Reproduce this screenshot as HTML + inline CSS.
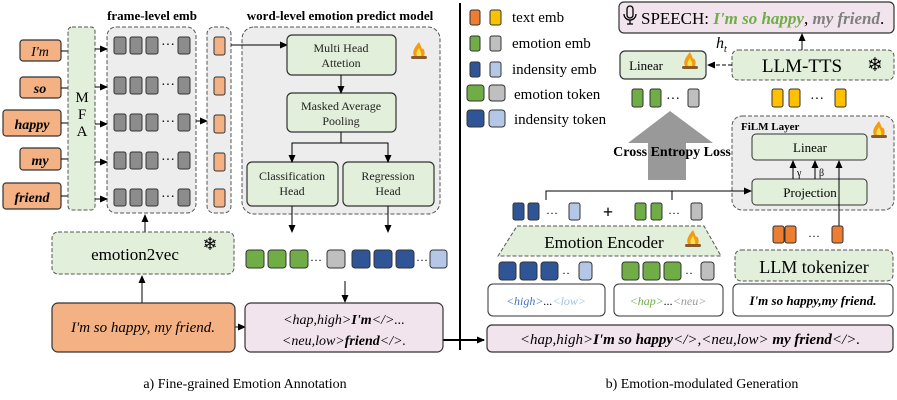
<!DOCTYPE html>
<html><head><meta charset="utf-8"><style>
body{margin:0;background:#fff}
svg{display:block;font-family:"Liberation Serif",serif}
</style></head><body>
<svg width="897" height="400" viewBox="0 0 897 400" xmlns="http://www.w3.org/2000/svg">
<defs>
<marker id="a" markerWidth="8" markerHeight="8" refX="7" refY="4" orient="auto" markerUnits="userSpaceOnUse"><path d="M0,0.5 L8,4 L0,7.5 z" fill="#000"/></marker>
<g id="fire"><path d="M9,0 C4,6 2,10 4,14 L14,14 C16,10 13,5 12,7 C11,4 10,2 9,0z" fill="#f39c12"/><path d="M9,6 C6,10 6,12 7,14 L11,14 C12,11 10,9 9,6z" fill="#fde047"/><rect x="1" y="14" width="16" height="3" rx="1.5" fill="#8b5a2b"/></g>
</defs>
<!-- LEFT -->
<text x="152" y="20" font-size="13" font-weight="bold" text-anchor="middle">frame-level emb</text>
<text x="340" y="20" font-size="13" font-weight="bold" text-anchor="middle">word-level emotion predict model</text>
<g stroke="#333" stroke-width="1.2" fill="#f4b183" font-style="italic" font-weight="bold" font-size="14">
<rect x="20" y="40" width="41" height="21" rx="3"/><rect x="20" y="77" width="41" height="21" rx="3"/><rect x="3" y="110" width="58" height="26" rx="3"/><rect x="20" y="148" width="41" height="22" rx="3"/><rect x="3" y="183" width="58" height="26" rx="3"/>
</g>
<g font-style="italic" font-weight="bold" font-size="14" text-anchor="middle"><text x="40" y="56" font-weight="normal">I'm</text><text x="40" y="93">so</text><text x="32" y="129">happy</text><text x="40" y="165">my</text><text x="32" y="202">friend</text></g>
<g stroke="#000" stroke-width="1"><line x1="61" y1="51" x2="68" y2="51"/><line x1="61" y1="88" x2="68" y2="88"/><line x1="61" y1="123" x2="68" y2="123"/><line x1="61" y1="159" x2="68" y2="159"/><line x1="61" y1="196" x2="68" y2="196"/></g>
<rect x="68" y="27" width="27" height="183" rx="4" fill="#e2efda" stroke="#555" stroke-dasharray="4,2"/>
<text x="82" y="102" font-size="15" text-anchor="middle">M</text><text x="82" y="119" font-size="15" text-anchor="middle">F</text><text x="82" y="136" font-size="15" text-anchor="middle">A</text>
<rect x="107" y="27" width="89" height="186" rx="9" fill="#ededed" stroke="#555" stroke-dasharray="4,2"/>
<g stroke="#000" fill="none" marker-end="url(#a)"><line x1="95" y1="49" x2="107" y2="49"/><line x1="95" y1="87" x2="107" y2="87"/><line x1="95" y1="124" x2="107" y2="124"/><line x1="95" y1="162" x2="107" y2="162"/><line x1="95" y1="199" x2="107" y2="199"/><line x1="196" y1="121" x2="207" y2="121"/></g>
<g fill="#8c8c8c" stroke="#333">
<g id="r"><rect x="114" y="37" width="12" height="17" rx="2"/><rect x="130" y="37" width="12" height="17" rx="2"/><rect x="146" y="37" width="12" height="17" rx="2"/><rect x="178" y="37" width="12" height="17" rx="2"/></g>
<use href="#r" y="40"/><use href="#r" y="77"/><use href="#r" y="115"/><use href="#r" y="152"/>
</g>
<g font-size="14" text-anchor="middle"><text x="168" y="49">···</text><text x="168" y="89">···</text><text x="168" y="126">···</text><text x="168" y="164">···</text><text x="168" y="201">···</text></g>
<rect x="207" y="27" width="24" height="186" rx="7" fill="#ededed" stroke="#555" stroke-dasharray="4,2"/>
<g fill="#f4b183" stroke="#333"><rect x="214" y="37" width="11" height="18" rx="2"/><rect x="214" y="77" width="11" height="18" rx="2"/><rect x="214" y="115" width="11" height="18" rx="2"/><rect x="214" y="153" width="11" height="18" rx="2"/><rect x="214" y="189" width="11" height="18" rx="2"/></g>
<rect x="242" y="27" width="198" height="187" rx="12" fill="#ededed" stroke="#555" stroke-dasharray="4,2"/>
<use href="#fire" x="410" y="42"/>
<path d="M231,45 H287" stroke="#000" marker-end="url(#a)"/>
<g fill="#e2efda" stroke="#333" stroke-width="1.2"><rect x="287" y="35" width="109" height="40" rx="5"/><rect x="287" y="93" width="109" height="39" rx="5"/><rect x="247" y="162" width="91" height="44" rx="5"/><rect x="343" y="162" width="91" height="44" rx="5"/></g>
<g font-size="12" text-anchor="middle" fill="#222"><text x="341" y="52">Multi Head</text><text x="341" y="67">Attetion</text><text x="341" y="110">Masked Average</text><text x="341" y="125">Pooling</text><text x="292" y="180">Classification</text><text x="292" y="195">Head</text><text x="388" y="180">Regression</text><text x="388" y="195">Head</text></g>
<g stroke="#000" fill="none"><path d="M341,75 V93" marker-end="url(#a)"/><path d="M341,132 V143 H292 V162" marker-end="url(#a)"/><path d="M341,143 H388 V162" marker-end="url(#a)"/><path d="M292,206 V232" marker-end="url(#a)"/><path d="M388,206 V232" marker-end="url(#a)"/><path d="M145,232 V215" marker-end="url(#a)"/><path d="M142,303 V276" marker-end="url(#a)"/><path d="M345,281 V302" marker-end="url(#a)"/><path d="M235,327 H245" marker-end="url(#a)"/><path d="M443,340 H484" stroke-width="2" marker-end="url(#a)"/></g>
<rect x="52" y="232" width="182" height="42" rx="6" fill="#e2efda" stroke="#555" stroke-dasharray="4,2"/>
<text x="135" y="260" font-size="17" text-anchor="middle">emotion2vec</text>
<text x="210" y="250" font-size="18" text-anchor="middle">❄</text>
<g stroke="#333"><rect x="246" y="250" width="18" height="18" rx="3" fill="#70ad47"/><rect x="268" y="250" width="18" height="18" rx="3" fill="#70ad47"/><rect x="290" y="250" width="18" height="18" rx="3" fill="#70ad47"/><rect x="327" y="250" width="18" height="18" rx="3" fill="#bfbfbf"/><rect x="352" y="250" width="18" height="18" rx="3" fill="#2f5597"/><rect x="374" y="250" width="18" height="18" rx="3" fill="#2f5597"/><rect x="396" y="250" width="18" height="18" rx="3" fill="#2f5597"/><rect x="430" y="250" width="17" height="18" rx="3" fill="#b4c7e7"/></g>
<text x="310" y="264" font-size="12">···</text><text x="416" y="264" font-size="12">···</text>
<rect x="52" y="303" width="183" height="49" rx="6" fill="#f4b183" stroke="#333" stroke-width="1.2"/>
<text x="143" y="332" font-size="15" font-style="italic" text-anchor="middle">I'm so happy, my friend.</text>
<rect x="245" y="303" width="198" height="49" rx="6" fill="#f2e4ec" stroke="#333" stroke-width="1.2"/>
<text x="344" y="324" font-size="14" text-anchor="middle" font-style="italic">&lt;hap,high&gt;<tspan font-weight="bold">I'm</tspan>&lt;/&gt;...</text>
<text x="344" y="345" font-size="14" text-anchor="middle" font-style="italic">&lt;neu,low&gt;<tspan font-weight="bold">friend</tspan>&lt;/&gt;.</text>
<text x="245" y="388" font-size="14" text-anchor="middle">a) Fine-grained Emotion Annotation</text>
<line x1="460" y1="3" x2="460" y2="350" stroke="#000" stroke-width="2"/>
<!-- RIGHT -->
<g stroke="#333"><rect x="470" y="10" width="10" height="15" rx="2" fill="#ed7d31"/><rect x="490" y="10" width="11" height="15" rx="2" fill="#ffc000"/><rect x="470" y="36" width="10" height="15" rx="2" fill="#70ad47"/><rect x="490" y="36" width="11" height="15" rx="2" fill="#bfbfbf"/><rect x="470" y="62" width="10" height="15" rx="2" fill="#2f5597"/><rect x="490" y="62" width="11" height="15" rx="2" fill="#b4c7e7"/><rect x="467" y="85" width="17" height="16" rx="3" fill="#70ad47"/><rect x="489" y="85" width="16" height="16" rx="3" fill="#bfbfbf"/><rect x="467" y="110" width="17" height="17" rx="3" fill="#2f5597"/><rect x="489" y="110" width="16" height="17" rx="3" fill="#b4c7e7"/></g>
<g font-size="15"><text x="512" y="22">text emb</text><text x="512" y="48">emotion emb</text><text x="512" y="74">indensity emb</text><text x="514" y="99">emotion token</text><text x="514" y="124">indensity token</text></g>
<rect x="619" y="2" width="275" height="31" rx="5" fill="#f2e4ec" stroke="#333" stroke-width="1.2"/>
<path d="M627,9 a3,3 0 0 1 6,0 v6 a3,3 0 0 1 -6,0 z M624,14 a6,6 0 0 0 12,0 M630,20 v4 M627,24 h6" fill="none" stroke="#000" stroke-width="1.3"/>
<text x="641" y="24" font-size="17">SPEECH: <tspan font-style="italic" font-weight="bold" fill="#70ad47">I'm so happy</tspan>, <tspan font-style="italic" font-weight="bold" fill="#7f7f7f">my friend</tspan>.</text>
<rect x="620" y="51" width="86" height="28" rx="5" fill="#e2efda" stroke="#333" stroke-width="1.2"/>
<text x="663" y="70" font-size="13" text-anchor="end">Linear</text>
<use href="#fire" x="681" y="52"/>
<rect x="732" y="50" width="162" height="30" rx="6" fill="#e2efda" stroke="#555" stroke-dasharray="4,2"/>
<text x="802" y="72" font-size="19" text-anchor="middle">LLM-TTS</text>
<text x="875" y="71" font-size="19" text-anchor="middle">❄</text>
<text x="716" y="48" font-size="16" font-style="italic">h<tspan font-size="10" dy="4">t</tspan></text>
<path d="M732,65 H708" stroke="#000" stroke-dasharray="4,2" marker-end="url(#a)"/>
<path d="M802,50 V34" stroke="#000" marker-end="url(#a)"/>
<g stroke="#333"><rect x="632" y="89" width="11" height="18" rx="2" fill="#70ad47"/><rect x="650" y="89" width="11" height="18" rx="2" fill="#70ad47"/><rect x="688" y="89" width="11" height="18" rx="2" fill="#bfbfbf"/><rect x="772" y="89" width="11" height="18" rx="2" fill="#ffc000"/><rect x="789" y="89" width="11" height="18" rx="2" fill="#ffc000"/><rect x="835" y="89" width="11" height="18" rx="2" fill="#ffc000"/></g>
<text x="666" y="103" font-size="14">···</text><text x="810" y="103" font-size="14">···</text>
<path d="M648,180 V143 H628 L670,111 L713,143 H686 V180 z" fill="#999"/>
<text x="672" y="156" font-size="14" font-weight="bold" text-anchor="middle">Cross Entropy Loss</text>
<rect x="732" y="116" width="162" height="94" rx="10" fill="#ededed" stroke="#555" stroke-dasharray="4,2"/>
<text x="741" y="130" font-size="11" font-weight="bold">FiLM Layer</text>
<use href="#fire" x="870" y="121"/>
<rect x="752" y="134" width="115" height="26" rx="4" fill="#e2efda" stroke="#333"/>
<text x="810" y="152" font-size="13" text-anchor="middle">Linear</text>
<rect x="752" y="179" width="115" height="26" rx="4" fill="#e2efda" stroke="#333"/>
<text x="810" y="197" font-size="13" text-anchor="middle">Projection</text>
<g stroke="#000" fill="none"><path d="M793,179 V161" marker-end="url(#a)"/><path d="M815,179 V161" marker-end="url(#a)"/><path d="M839,226 V161" marker-end="url(#a)"/><path d="M546,200 V191 H751" marker-end="url(#a)"/><path d="M672,191 V200"/></g>
<text x="797" y="176" font-size="10">γ</text><text x="819" y="176" font-size="10">β</text>
<g stroke="#333"><rect x="513" y="203" width="11" height="17" rx="2" fill="#2f5597"/><rect x="528" y="203" width="11" height="17" rx="2" fill="#2f5597"/><rect x="569" y="203" width="11" height="17" rx="2" fill="#b4c7e7"/><rect x="635" y="203" width="11" height="17" rx="2" fill="#70ad47"/><rect x="651" y="203" width="11" height="17" rx="2" fill="#70ad47"/><rect x="691" y="203" width="11" height="17" rx="2" fill="#bfbfbf"/></g>
<text x="546" y="217" font-size="12">···</text><text x="668" y="217" font-size="12">···</text>
<text x="608" y="218" font-size="18" font-weight="bold" text-anchor="middle">+</text>
<path d="M517,226 H704 L721,256 H498 z" fill="#e2efda" stroke="#555" stroke-dasharray="4,2"/>
<text x="604" y="248" font-size="17" text-anchor="middle">Emotion Encoder</text>
<use href="#fire" x="684" y="230"/>
<g stroke="#333"><rect x="773" y="226" width="11" height="17" rx="2" fill="#ed7d31"/><rect x="785" y="226" width="11" height="17" rx="2" fill="#ed7d31"/><rect x="832" y="226" width="11" height="17" rx="2" fill="#ed7d31"/></g>
<text x="808" y="240" font-size="12">···</text>
<rect x="735" y="250" width="158" height="31" rx="6" fill="#e2efda" stroke="#555" stroke-dasharray="4,2"/>
<text x="814" y="273" font-size="18" text-anchor="middle">LLM tokenizer</text>
<g stroke="#333"><rect x="499" y="262" width="17" height="18" rx="3" fill="#2f5597"/><rect x="520" y="262" width="17" height="18" rx="3" fill="#2f5597"/><rect x="541" y="262" width="17" height="18" rx="3" fill="#2f5597"/><rect x="579" y="262" width="13" height="18" rx="3" fill="#b4c7e7"/><rect x="622" y="262" width="17" height="18" rx="3" fill="#70ad47"/><rect x="643" y="262" width="17" height="18" rx="3" fill="#70ad47"/><rect x="664" y="262" width="17" height="18" rx="3" fill="#70ad47"/><rect x="701" y="262" width="13" height="18" rx="3" fill="#bfbfbf"/></g>
<text x="562" y="277" font-size="12">··</text><text x="685" y="277" font-size="12">··</text>
<g fill="#fff" stroke="#333"><rect x="488" y="284" width="117" height="32" rx="5"/><rect x="614" y="284" width="109" height="32" rx="5"/><rect x="733" y="284" width="160" height="32" rx="5"/></g>
<text x="546" y="305" font-size="12" font-style="italic" text-anchor="middle"><tspan fill="#4472c4">&lt;high&gt;</tspan>...<tspan fill="#9dc3e6">&lt;low&gt;</tspan></text>
<text x="668" y="305" font-size="12" font-style="italic" text-anchor="middle"><tspan fill="#70ad47">&lt;hap&gt;</tspan>...<tspan fill="#999">&lt;neu&gt;</tspan></text>
<text x="813" y="305" font-size="13" font-style="italic" font-weight="bold" text-anchor="middle">I'm so happy,my friend.</text>
<rect x="487" y="325" width="406" height="27" rx="5" fill="#f2e4ec" stroke="#333" stroke-width="1.2"/>
<text x="690" y="344" font-size="15" font-style="italic" text-anchor="middle">&lt;hap,high&gt;<tspan font-weight="bold">I'm so happy</tspan>&lt;/&gt;,&lt;neu,low&gt; <tspan font-weight="bold">my friend</tspan>&lt;/&gt;.</text>
<text x="702" y="388" font-size="14" text-anchor="middle">b) Emotion-modulated Generation</text>
</svg>
</body></html>
